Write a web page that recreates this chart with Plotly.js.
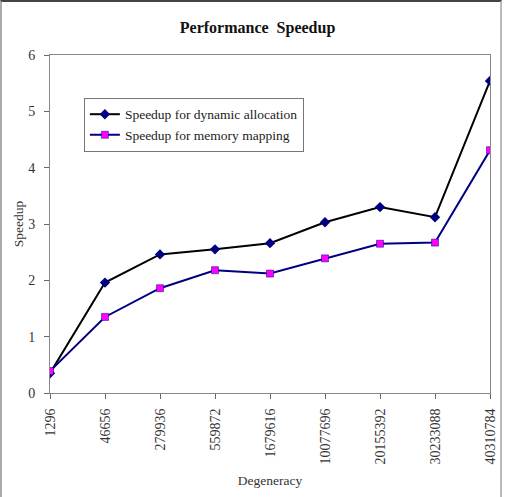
<!DOCTYPE html>
<html><head><meta charset="utf-8">
<script src="https://cdn.plot.ly/plotly-3.0.1.min.js"></script>
<style>
html,body{margin:0;padding:0;background:#fff;}
#wrap{position:relative;width:505px;height:497px;}
#chart{width:505px;height:497px;}
#frame{position:absolute;left:0;top:0;height:497px;border-top:2px solid #444;border-left:2px solid #aaa;border-right:2px solid #bbb;pointer-events:none;box-sizing:border-box;width:502px;}
</style>
</head><body>
<div id="wrap"><div id="chart"></div><div id="frame"></div></div>
<script>
var categories = ["1296","46656","279936","559872","1679616","10077696","20155392","30233088","40310784"];
var dynamicSpeedup = [0.35, 1.96, 2.46, 2.55, 2.66, 3.03, 3.30, 3.12, 5.54];
var memorySpeedup = [0.39, 1.35, 1.86, 2.18, 2.12, 2.39, 2.65, 2.67, 4.31];
var yTicks = [0,1,2,3,4,5,6];

var serif = "Liberation Serif, Times New Roman, serif";
var traces = [
  {x: categories, y: dynamicSpeedup, type: "scatter", mode: "lines+markers",
   name: "Speedup for dynamic allocation",
   line: {color: "#000000", width: 2},
   marker: {symbol: "diamond", size: 8, color: "#000080", line: {color: "#000080", width: 0}}},
  {x: categories, y: memorySpeedup, type: "scatter", mode: "lines+markers",
   name: "Speedup for memory mapping",
   line: {color: "#000080", width: 2},
   marker: {symbol: "square", size: 7, color: "#FF00FF", line: {color: "#000080", width: 0.5}}}
];
var layout = {
  width: 505, height: 497,
  margin: {l: 50, r: 15, t: 55, b: 104},
  paper_bgcolor: "#ffffff", plot_bgcolor: "#ffffff",
  font: {family: serif, color: "#222", size: 12},
  title: {text: "<b>Performance  Speedup</b>", x: 0.51, xanchor: "center", y: 0.945, yanchor: "middle",
          font: {family: serif, size: 16, color: "#111"}},
  showlegend: true,
  legend: {x: 0.077, y: 0.873, xanchor: "left", yanchor: "top", bgcolor: "#fff",
           bordercolor: "#777", borderwidth: 1, font: {family: serif, size: 13.5, color: "#222"},
           tracegroupgap: 2, itemwidth: 30},
  xaxis: {type: "category", range: [0, 8], showgrid: false, zeroline: false,
          showline: true, linecolor: "#888", linewidth: 1, mirror: true,
          ticks: "outside", ticklen: 5, tickcolor: "#666", tickangle: -90, ticklabelstandoff: 4,
          tickfont: {family: serif, size: 14, color: "#333"},
          title: {text: "Degeneracy", font: {family: serif, size: 13.5, color: "#333"}, standoff: 11}},
  yaxis: {range: [0, 6], tickvals: yTicks, showgrid: false, zeroline: false,
          showline: true, linecolor: "#888", linewidth: 1, mirror: true,
          ticks: "outside", ticklen: 5, tickcolor: "#666", ticklabelstandoff: 6,
          tickfont: {family: serif, size: 14, color: "#333"},
          title: {text: "Speedup", font: {family: serif, size: 13.5, color: "#333"}, standoff: 1}}
};
Plotly.newPlot("chart", traces, layout, {displayModeBar: false, staticPlot: true});
</script>
</body></html>
